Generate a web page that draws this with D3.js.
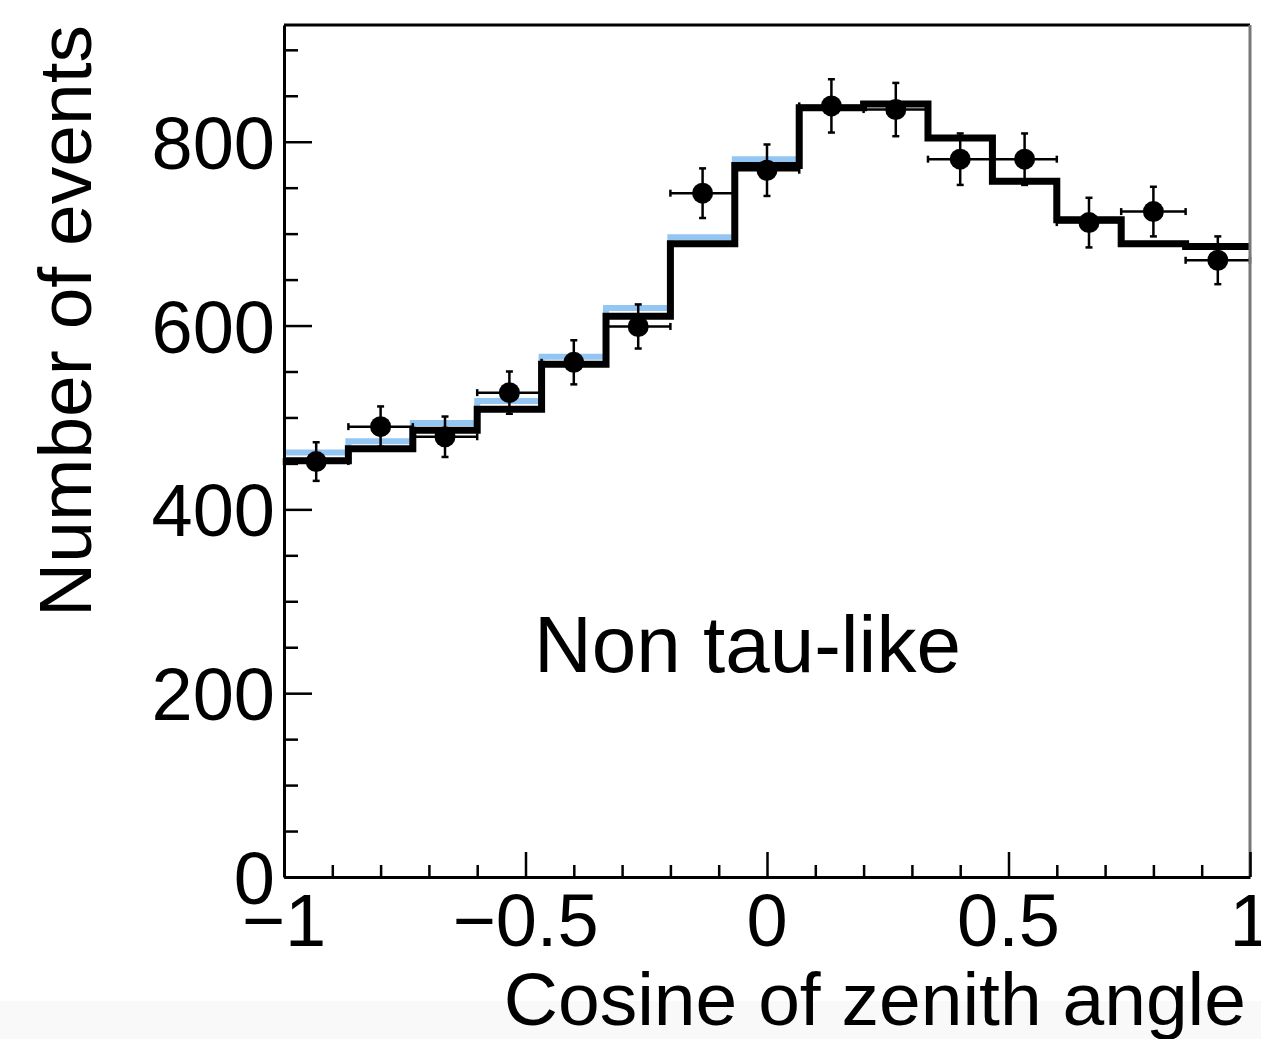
<!DOCTYPE html>
<html>
<head>
<meta charset="utf-8">
<script src="https://cdn.jsdelivr.net/npm/d3@7"></script>
<style>
  body { margin: 0; background: #ffffff; }
  svg text { font-family: "Liberation Sans", Arial, Helvetica, sans-serif; fill: #000; }
</style>
</head>
<body>
<div id="wrapper"></div>
<script>
// Bin edges of cos(zenith), 15 bins from -1 to 1
var binEdges = [-1, -0.8667, -0.7333, -0.6, -0.4667, -0.3333, -0.2, -0.0667, 0.0667, 0.2, 0.3333, 0.4667, 0.6, 0.7333, 0.8667, 1];
// Observed events (points) and their errors
var dataCounts = [452, 490, 479, 527, 560, 599, 744, 769, 839, 835, 781, 781, 712, 724, 671];
var dataErrors = [21, 22, 22, 23, 24, 24, 27, 28, 29, 29, 28, 28, 27, 27, 26];
// Best fit histogram (black) and the other prediction (blue)
var fitBlack = [453, 466, 486, 509, 558, 610, 689, 774, 837, 841, 804, 757, 715, 689, 686];
var fitBlue = [462, 474, 494, 518, 566, 619, 696, 781, 837, 841, 804, 757, 715, 689, 686];
// Tick labels
var xTickValues = [-1, -0.5, 0, 0.5, 1];
var xTickLabels = ["\u22121", "\u22120.5", "0", "0.5", "1"];
var yTickValues = [0, 200, 400, 600, 800];
var yTickLabels = ["0", "200", "400", "600", "800"];

var width = 1261, height = 1039;
var plot = { left: 284, right: 1250, top: 25, bottom: 877 };

const svg = d3.select("#wrapper")
  .append("svg")
  .attr("width", width)
  .attr("height", height);

// light grey strip at the bottom of the screenshot
svg.append("rect")
  .attr("x", 0).attr("y", 1001)
  .attr("width", width).attr("height", height - 1001)
  .attr("fill", "#f9f9f9");

const xScale = d3.scaleLinear().domain([-1, 1]).range([plot.left, plot.right]);
const yScale = d3.scaleLinear().domain([0, 927]).range([plot.bottom, plot.top]);

// step path through a histogram
function stepPath(values) {
  var p = d3.path();
  values.forEach(function (v, i) {
    var x0 = xScale(binEdges[i]), x1 = xScale(binEdges[i + 1]), y = yScale(v);
    if (i === 0) p.moveTo(x0, y); else p.lineTo(x0, y);
    p.lineTo(x1, y);
  });
  return p.toString();
}

svg.append("path")
  .attr("d", stepPath(fitBlue))
  .attr("fill", "none")
  .attr("stroke", "#94c6f4")
  .attr("stroke-width", 6);

svg.append("path")
  .attr("d", stepPath(fitBlack))
  .attr("fill", "none")
  .attr("stroke", "#000")
  .attr("stroke-width", 7);

// data points with error bars
var pts = dataCounts.map(function (c, i) {
  return { lo: binEdges[i], hi: binEdges[i + 1], mid: (binEdges[i] + binEdges[i + 1]) / 2, c: c, e: dataErrors[i] };
});
var cap = 3.5;
const errG = svg.append("g").attr("stroke", "#000").attr("stroke-width", 2.5);
pts.forEach(function (d) {
  var cx = xScale(d.mid), cy = yScale(d.c);
  var x0 = xScale(d.lo), x1 = xScale(d.hi);
  var yt = yScale(d.c + d.e), yb = yScale(d.c - d.e);
  errG.append("line").attr("x1", x0).attr("x2", x1).attr("y1", cy).attr("y2", cy);
  errG.append("line").attr("x1", cx).attr("x2", cx).attr("y1", yt).attr("y2", yb);
  errG.append("line").attr("x1", x0).attr("x2", x0).attr("y1", cy - cap).attr("y2", cy + cap);
  errG.append("line").attr("x1", x1).attr("x2", x1).attr("y1", cy - cap).attr("y2", cy + cap);
  errG.append("line").attr("x1", cx - cap).attr("x2", cx + cap).attr("y1", yt).attr("y2", yt);
  errG.append("line").attr("x1", cx - cap).attr("x2", cx + cap).attr("y1", yb).attr("y2", yb);
});
svg.append("g")
  .selectAll("circle")
  .data(pts)
  .enter()
  .append("circle")
  .attr("cx", (d) => xScale(d.mid))
  .attr("cy", (d) => yScale(d.c))
  .attr("r", 10.5)
  .attr("fill", "#000");

// frame: top and right
svg.append("line")
  .attr("x1", plot.left).attr("x2", plot.right)
  .attr("y1", plot.top).attr("y2", plot.top)
  .attr("stroke", "#000").attr("stroke-width", 3);
svg.append("line")
  .attr("x1", plot.right).attr("x2", plot.right)
  .attr("y1", plot.top).attr("y2", plot.bottom)
  .attr("stroke", "#777").attr("stroke-width", 3);

// X axis, ticks pointing inside
const xAxis = d3.axisTop(xScale)
  .tickValues(d3.range(-10, 11).map((k) => k / 10))
  .tickSizeOuter(0)
  .tickFormat("");
const xAxisG = svg.append("g")
  .attr("transform", `translate(0,${plot.bottom})`)
  .call(xAxis);
xAxisG.select(".domain").attr("stroke", "#000").attr("stroke-width", 3);
xAxisG.selectAll(".tick line")
  .attr("stroke", "#000").attr("stroke-width", 2.5)
  .attr("y2", (d) => (Math.abs(d * 2 - Math.round(d * 2)) < 1e-6 ? -25 : -12));

svg.append("g")
  .selectAll("text")
  .data(xTickValues)
  .enter()
  .append("text")
  .attr("x", (d) => xScale(d))
  .attr("y", 946)
  .attr("text-anchor", "middle")
  .style("font-size", "74px")
  .text((d, i) => xTickLabels[i]);

// Y axis, ticks pointing inside
const yAxis = d3.axisRight(yScale)
  .tickValues(d3.range(0, 901, 50))
  .tickSizeOuter(0)
  .tickFormat("");
const yAxisG = svg.append("g")
  .attr("transform", `translate(${plot.left},0)`)
  .call(yAxis);
yAxisG.select(".domain").attr("stroke", "#000").attr("stroke-width", 3);
yAxisG.selectAll(".tick line")
  .attr("stroke", "#000").attr("stroke-width", 2.5)
  .attr("x2", (d) => (d % 200 === 0 ? 28 : 14));

svg.append("g")
  .selectAll("text")
  .data(yTickValues)
  .enter()
  .append("text")
  .attr("x", 275)
  .attr("y", (d) => yScale(d) + 27)
  .attr("text-anchor", "end")
  .style("font-size", "74px")
  .text((d, i) => yTickLabels[i]);

// axis titles
svg.append("text")
  .attr("transform", "translate(91,25) rotate(-90)")
  .attr("text-anchor", "end")
  .style("font-size", "75px")
  .text("Number of events");

svg.append("text")
  .attr("x", 1246)
  .attr("y", 1025)
  .attr("text-anchor", "end")
  .style("font-size", "75px")
  .text("Cosine of zenith angle");

// sample label
svg.append("text")
  .attr("x", 534)
  .attr("y", 672)
  .style("font-size", "80px")
  .text("Non tau-like");
</script>
</body>
</html>
